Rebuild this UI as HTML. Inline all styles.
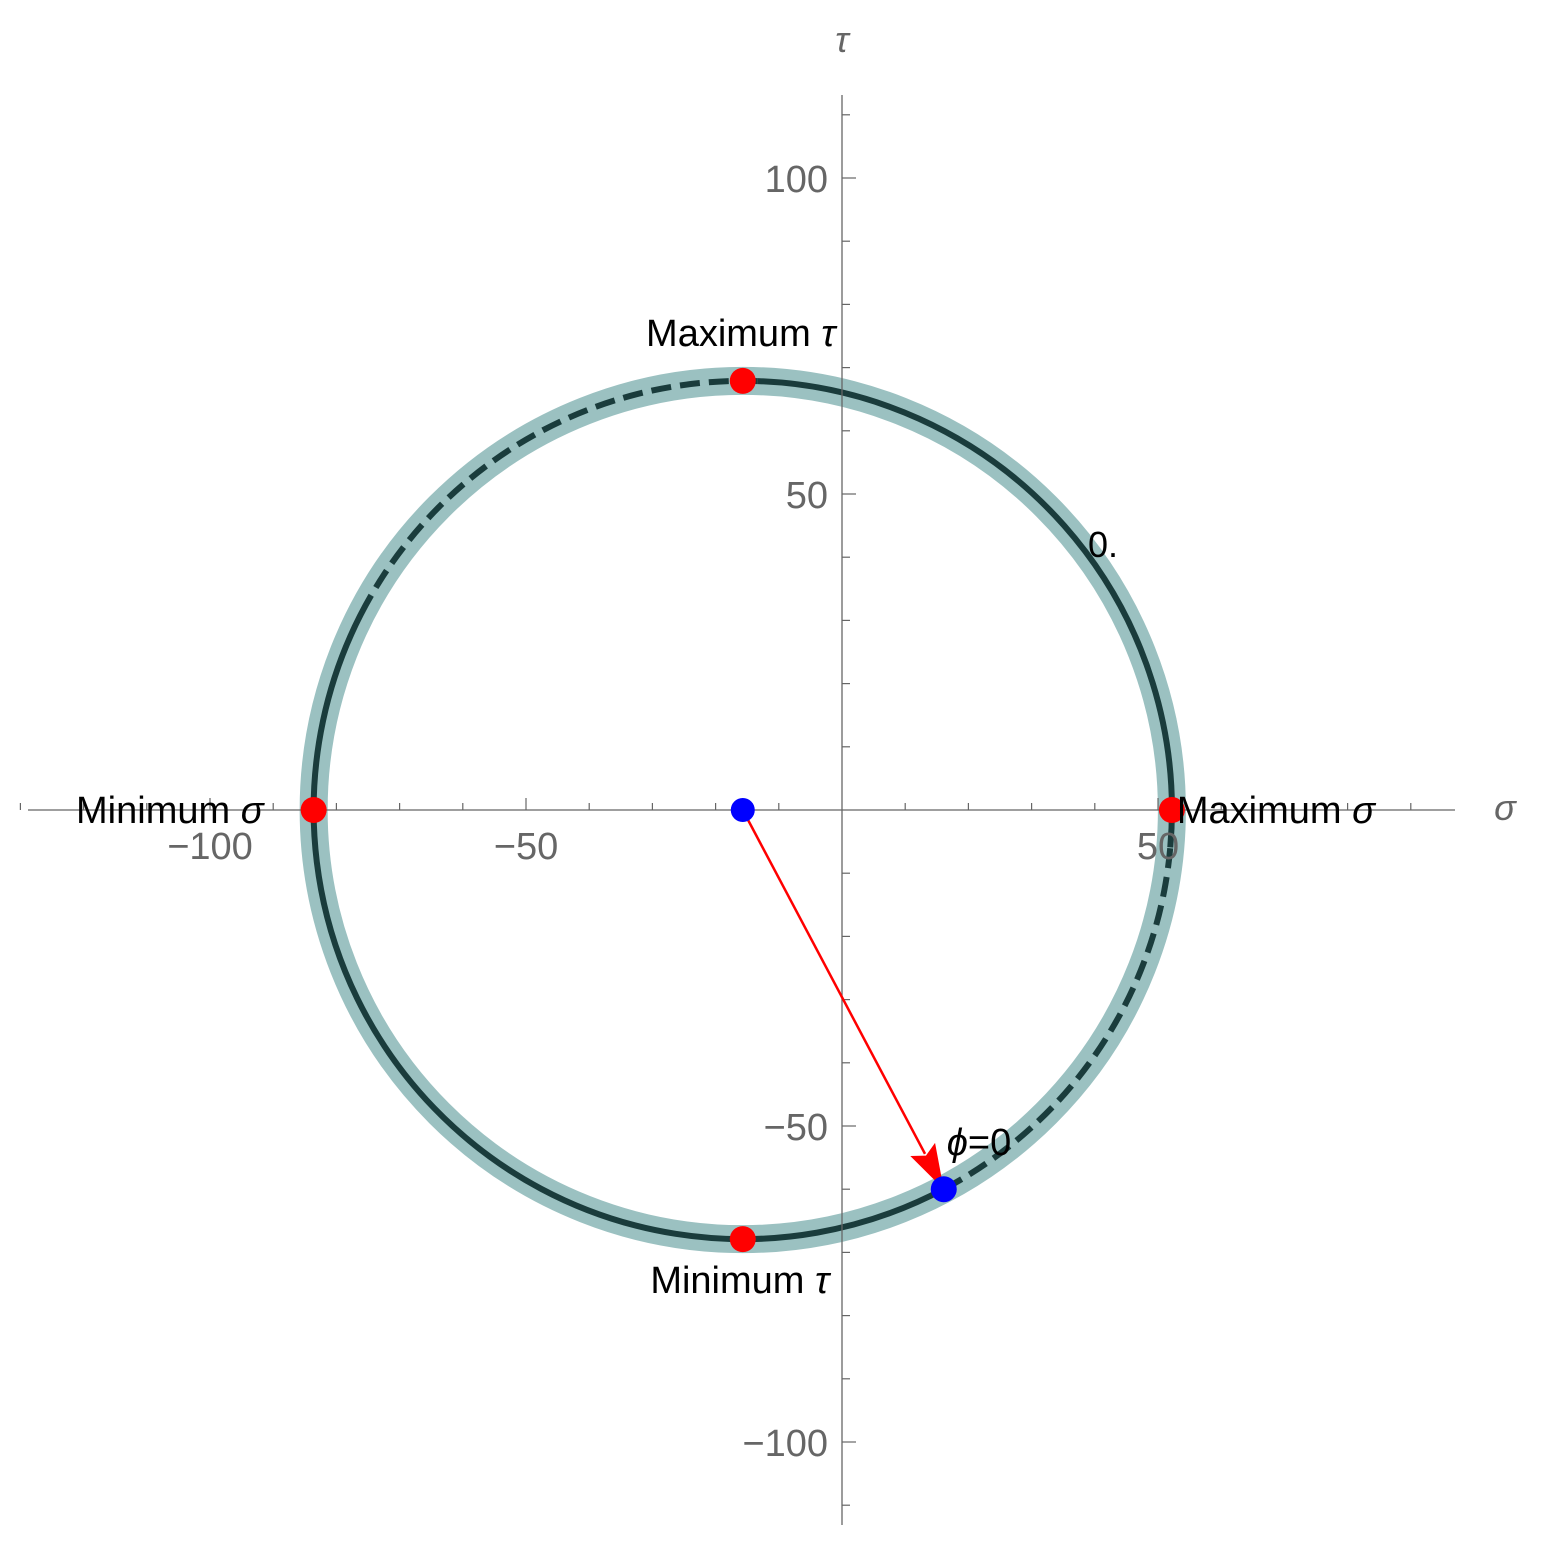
<!DOCTYPE html>
<html><head><meta charset="utf-8"><style>
body{margin:0;background:#fff}
svg{display:block}
text{font-family:"Liberation Sans",sans-serif}
</style></head><body>
<svg id="c" width="1556" height="1555" viewBox="0 0 1556 1555"></svg>
<script>
const xTicks=[-100,-50,50];
const yTicks=[-100,-50,50,100];
const center=[-15.7,0];
const radius=67.9;
const principalPts=[[52.2,0],[-83.6,0],[-15.7,67.9],[-15.7,-67.9]];
const principalLabels=["Maximum σ","Minimum σ","Maximum τ","Minimum τ"];
const phiPoint=[16.1,-60];
const dashedArcs=[[88,150],[-62,-5]];
const S=6.32, OX=842, OY=810;
const X=v=>OX+v*S, Y=v=>OY-v*S;
const svg=document.getElementById('c');
const NS='http://www.w3.org/2000/svg';
function el(t,a,p){const e=document.createElementNS(NS,t);for(const k in a)e.setAttribute(k,a[k]);(p||svg).appendChild(e);return e;}
let e;
// circle
const cx=X(center[0]),cy=Y(center[1]),r=radius*S;
e=el('circle',{cx:cx,cy:cy,r:r,fill:'none',stroke:'#9bc1c1','stroke-width':28});

function arc(a0,a1){const p=a=>[cx+r*Math.cos(a*Math.PI/180),cy-r*Math.sin(a*Math.PI/180)];
 const [x0,y0]=p(a0),[x1,y1]=p(a1);return `M${x0},${y0} A${r},${r} 0 ${Math.abs(a1-a0)>180?1:0} 0 ${x1},${y1}`;}
const d=dashedArcs;
e=el('path',{d:arc(d[0][1],d[1][0]+360),fill:'none',stroke:'#1a3c3c','stroke-width':6});

e=el('path',{d:arc(d[1][1],d[0][0]),fill:'none',stroke:'#1a3c3c','stroke-width':6});

d.forEach(a=>{e=el('path',{d:arc(a[0],a[1]),fill:'none',stroke:'#1a3c3c','stroke-width':6,'stroke-dasharray':'20 9'});
 });
// axes
e=el('line',{x1:28,y1:OY,x2:1455,y2:OY,stroke:'#666','stroke-width':1.3});

e=el('line',{x1:OX,y1:95,x2:OX,y2:1525,stroke:'#666','stroke-width':1.3});

for(let v=-130;v<=95;v+=10){if(v===0)continue;const maj=v%50===0;
 e=el('line',{x1:X(v),y1:OY,x2:X(v),y2:OY-(maj?12:7),stroke:'#666','stroke-width':1.2});
 }
for(let v=-110;v<=110;v+=10){if(v===0)continue;const maj=v%50===0;
 e=el('line',{x1:OX,y1:Y(v),x2:OX+(maj?14:8),y2:Y(v),stroke:'#666','stroke-width':1.2});
 }
xTicks.forEach(v=>{e=el('text',{x:X(v),y:OY+49,'font-size':38,fill:'#666','text-anchor':'middle'});e.textContent=v<0?'−'+(-v):v;
 });
yTicks.forEach(v=>{e=el('text',{x:OX-14,y:Y(v)+14,'font-size':38,fill:'#666','text-anchor':'end'});e.textContent=v<0?'−'+(-v):v;
 });
e=el('text',{x:1505,y:820,'font-size':36,fill:'#666','font-style':'italic','text-anchor':'middle'});e.textContent='σ';

e=el('text',{x:842,y:52,'font-size':36,fill:'#666','font-style':'italic','text-anchor':'middle'});e.textContent='τ';

// arrow
const px=X(phiPoint[0]),py=Y(phiPoint[1]);
const ang=Math.atan2(py-cy,px-cx),L=Math.hypot(px-cx,py-cy);
const g=el('g',{transform:`translate(${cx},${cy}) rotate(${ang*180/Math.PI})`});

el('line',{x1:0,y1:0,x2:L-40,y2:0,stroke:'#f00','stroke-width':2.5},g);
el('polygon',{points:`${L},0 ${L-45},-14 ${L-38},0 ${L-45},14`,fill:'#f00'},g);
// points
e=el('circle',{cx:cx,cy:cy,r:12,fill:'#00f'});
e=el('circle',{cx:px,cy:py,r:13,fill:'#00f'});
const offs=[[5,13,'start'],[-50,13,'end'],[-2,-35,'middle'],[-3,54,'middle']];
principalPts.forEach((p,i)=>{
 e=el('circle',{cx:X(p[0]),cy:Y(p[1]),r:13,fill:'#f00'});
 const o=offs[i];
 e=el('text',{x:X(p[0])+o[0],y:Y(p[1])+o[1],'font-size':38,fill:'#000','text-anchor':o[2]});
 const parts=principalLabels[i].split(' ');
 e.appendChild(document.createTextNode(parts[0]+' '));
 const ts=el('tspan',{'font-style':'italic'},e);ts.textContent=parts[1];
 
});
e=el('text',{x:1088,y:557,'font-size':36,fill:'#000'});e.textContent='0.';

e=el('text',{x:px+3,y:py-34,'font-size':38,fill:'#000'});
let t=el('tspan',{'font-style':'italic'},e);t.textContent='ϕ';e.appendChild(document.createTextNode('=0'));

</script>
</body></html>
